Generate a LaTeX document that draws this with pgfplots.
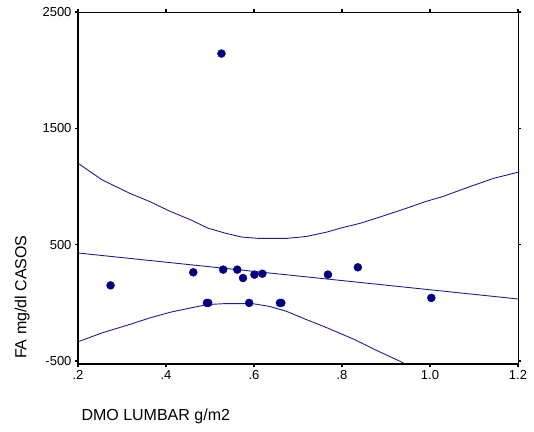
\documentclass[border=0pt]{standalone}
\usepackage{fontspec}
\setmainfont{Liberation Sans}
\usepackage{pgfplots}
\pgfplotsset{compat=1.18}

\definecolor{dotblue}{RGB}{0,0,128}
\definecolor{lineblue}{RGB}{30,30,150}

\begin{document}
\begin{tikzpicture}
\begin{axis}[
    at={(0,0)}, anchor=south west,
    scale only axis,
    width=440pt, height=352pt,
    xmin=0.2, xmax=1.2,
    ymin=-525, ymax=2500,
    xtick={0.2,0.4,0.6,0.8,1.0,1.2},
    xticklabels={.2,.4,.6,.8,1.0,1.2},
    ytick={-500,500,1500,2500},
    yticklabels={-500,500,1500,2500},
    tick align=outside,
    major tick length=3pt,
    every tick/.style={black, line width=1.5pt},
    axis line style={line width=0.8pt},
    tick label style={font=\fontsize{13}{15}\selectfont},
    label style={font=\fontsize{16}{19}\selectfont},
    xlabel={DMO LUMBAR g/m2},
    ylabel={FA mg/dl CASOS},
    xlabel style={at={(axis description cs:0,-0.15)}, anchor=west},
    ylabel style={at={(axis description cs:-0.127,0.19)}, anchor=center},
    /pgf/number format/assume math mode=true,
    after end axis/.code={
        \draw[line width=1.6pt] (rel axis cs:0,1) -- (rel axis cs:0,0) -- (rel axis cs:1,0);
    },
]

% regression line
\addplot[lineblue, line width=0.9pt] coordinates {(0.2,429) (1.2,34)};

% upper confidence band
\addplot[lineblue, line width=0.9pt] coordinates {
    (0.2,1200) (0.255,1057) (0.317,943) (0.363,871) (0.41,786) (0.456,714)
    (0.495,643) (0.534,600) (0.572,566) (0.611,554) (0.673,554) (0.719,571)
    (0.766,609) (0.797,643) (0.843,686) (0.89,743) (0.936,800) (0.99,871)
    (1.029,914) (1.091,1000) (1.145,1071) (1.2,1123)
};

% lower confidence band
\addplot[lineblue, line width=0.9pt] coordinates {
    (0.2,-334) (0.255,-257) (0.317,-186) (0.363,-129) (0.41,-80) (0.456,-43)
    (0.495,-14) (0.534,-6) (0.596,-6) (0.634,-29) (0.673,-71) (0.719,-143)
    (0.766,-214) (0.828,-314) (0.874,-400) (0.936,-509) (0.95,-540)
};

% observations
\addplot[only marks, mark=*, mark size=4pt, color=dotblue] coordinates {
    (0.274,151) (0.462,263) (0.526,2143) (0.530,286) (0.562,286)
    (0.575,214) (0.601,243) (0.619,251) (0.493,0) (0.496,0)
    (0.589,0) (0.659,0) (0.662,0) (0.768,243) (0.836,306) (1.003,43)
};

\end{axis}
\pgfresetboundingbox
\path[use as bounding box] (-78pt,-67pt) rectangle (456pt,364pt);
\end{tikzpicture}
\end{document}
